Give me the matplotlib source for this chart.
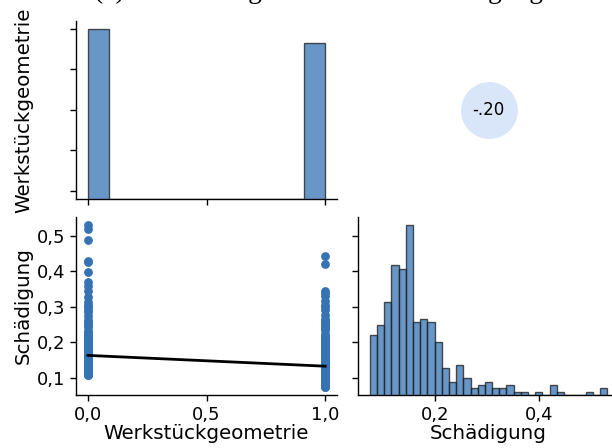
import numpy as np
import matplotlib
matplotlib.use("Agg")
import matplotlib.pyplot as plt
from matplotlib.ticker import FuncFormatter

# Damage values of the parts, split by workpiece geometry (0 / 1)
schaedigung_geo0 = [
    0.109, 0.109, 0.110, 0.110, 0.111, 0.111, 0.112, 0.112, 0.113, 0.113, 0.114, 0.114, 0.115, 0.115,
    0.116, 0.116, 0.117, 0.117, 0.118, 0.118, 0.119, 0.119, 0.120, 0.121, 0.121, 0.122, 0.123, 0.123,
    0.124, 0.125, 0.125, 0.126, 0.127, 0.127, 0.128, 0.129,
    0.130, 0.130, 0.131, 0.132, 0.132, 0.133, 0.134, 0.134, 0.135, 0.136, 0.136, 0.137, 0.138, 0.138,
    0.139, 0.140, 0.140, 0.141, 0.142, 0.142, 0.143,
    0.144, 0.144, 0.145, 0.145, 0.146, 0.146, 0.147, 0.147, 0.147, 0.148, 0.148, 0.149, 0.149, 0.150,
    0.150, 0.150, 0.151, 0.151, 0.152, 0.152, 0.153, 0.153, 0.154, 0.154, 0.155, 0.155, 0.156,
    0.158, 0.162, 0.164, 0.164, 0.164, 0.165, 0.165, 0.166, 0.166, 0.167, 0.167, 0.168, 0.168, 0.169,
    0.169, 0.170, 0.170,
    0.171, 0.172, 0.172, 0.173, 0.174, 0.175, 0.176, 0.177, 0.177, 0.178, 0.179, 0.180, 0.181, 0.182,
    0.183, 0.184,
    0.185, 0.186, 0.187, 0.188, 0.189, 0.190, 0.190, 0.191, 0.192, 0.193, 0.194, 0.195, 0.196, 0.197,
    0.198,
    0.199, 0.200, 0.200, 0.201, 0.202, 0.204, 0.205, 0.206, 0.207, 0.209, 0.210, 0.212,
    0.214, 0.216, 0.219, 0.221, 0.224, 0.228, 0.233, 0.242, 0.249, 0.252, 0.257, 0.264,
    0.273, 0.285, 0.291, 0.299, 0.305, 0.315, 0.329, 0.344, 0.359, 0.371, 0.399, 0.427, 0.430, 0.490,
    0.519, 0.531,
]
schaedigung_geo1 = [
    0.074, 0.075, 0.076, 0.077, 0.078, 0.079, 0.079, 0.080, 0.081, 0.081, 0.082, 0.083, 0.083, 0.084,
    0.085, 0.085, 0.086, 0.087,
    0.088, 0.089, 0.089, 0.090, 0.091, 0.091, 0.092, 0.093, 0.093, 0.094, 0.095, 0.095, 0.096, 0.096,
    0.097, 0.098, 0.098, 0.099, 0.100, 0.100, 0.101,
    0.102, 0.103, 0.104, 0.105, 0.106, 0.107, 0.108, 0.108, 0.109, 0.110, 0.111, 0.112, 0.113, 0.115,
    0.116, 0.117, 0.117, 0.118, 0.119, 0.120, 0.121, 0.121, 0.122, 0.123, 0.124, 0.125, 0.125, 0.126,
    0.127, 0.128, 0.129,
    0.130, 0.130, 0.131, 0.131, 0.131, 0.132, 0.132, 0.132, 0.132, 0.133, 0.134, 0.135, 0.137, 0.138,
    0.140, 0.141, 0.142,
    0.144, 0.144, 0.145, 0.145, 0.146, 0.146, 0.147, 0.147, 0.148, 0.148, 0.149, 0.149, 0.150, 0.150,
    0.151, 0.151, 0.152, 0.152, 0.153, 0.153, 0.154, 0.155, 0.155, 0.156,
    0.158, 0.160, 0.162, 0.166, 0.169,
    0.172, 0.174, 0.176, 0.178, 0.180, 0.182, 0.184,
    0.186, 0.188, 0.190, 0.192, 0.194, 0.196, 0.198,
    0.203, 0.206, 0.208, 0.211,
    0.215, 0.219, 0.224, 0.234, 0.238, 0.242, 0.245, 0.246, 0.247, 0.250, 0.253, 0.256, 0.261, 0.266,
    0.276, 0.292, 0.300, 0.306, 0.318, 0.330, 0.340, 0.346, 0.422, 0.444,
]

var_geo = "Werkstückgeometrie"
var_dmg = "Schädigung"
title_text = "(a) Werkstückgeometrie und Schädigung"
geo_xticks = [0.0, 0.5, 1.0]
geo_yticks = [0.0, 0.25, 0.5, 0.75, 1.0]
dmg_ticks = [0.1, 0.2, 0.3, 0.4, 0.5]
dmg_hist_ticks = [0.2, 0.4]
n_bins_geo = 11
n_bins_dmg = 33

point_color = "#3573b3"
label_size = 14.3
tick_size = 13

geo = np.concatenate([np.zeros(len(schaedigung_geo0)), np.ones(len(schaedigung_geo1))])
dmg = np.concatenate([schaedigung_geo0, schaedigung_geo1])

plt.rcParams["font.family"] = ["DejaVu Sans"]
fig = plt.figure(figsize=(6.12, 4.48), dpi=100)

W, H = 612.0, 448.0
def place(x0, y0, x1, y1):
    return fig.add_axes([x0 / W, 1 - y1 / H, (x1 - x0) / W, (y1 - y0) / H])

ax_tl = place(76, 20.7, 337, 199)
ax_tr = place(358, 20.7, 619, 199)
ax_bl = place(76, 217, 337, 395)
ax_br = place(358, 217, 619, 395)

comma = FuncFormatter(lambda v, p: f"{v:.1f}".replace(".", ","))

def margins(v):
    lo, hi = np.min(v), np.max(v)
    pad = 0.05 * (hi - lo)
    return lo - pad, hi + pad

geo_lim = margins(geo)
dmg_lim = margins(dmg)

for ax in (ax_tl, ax_bl, ax_br):
    for side in ("top", "right"):
        ax.spines[side].set_visible(False)
    for side in ("left", "bottom"):
        ax.spines[side].set_linewidth(1.0)
    ax.tick_params(labelsize=tick_size, width=1.0, length=4.5)

# Top-left: distribution of the geometry
ax_tl.set_xlim(*geo_lim)
ax_tl.set_ylim(*geo_lim)
ax_tl.set_xticks(geo_xticks)
ax_tl.set_yticks(geo_yticks)
ax_tl.tick_params(labelbottom=False, labelleft=False)
ax_tl.set_ylabel(var_geo, fontsize=label_size)
ax_tl.yaxis.set_label_coords(-0.165, 0.5)
tw_tl = ax_tl.twinx()
tw_tl.set_axis_off()
tw_tl.hist(geo, bins=n_bins_geo, range=(geo.min(), geo.max()), color=point_color, alpha=0.75,
           edgecolor="#1a1a1a", linewidth=1.0)

# Top-right: correlation bubble
ax_tr.set_axis_off()
r = np.corrcoef(geo, dmg)[0, 1]
ax_tr.scatter([0.5], [0.5], s=1680, c=[r], cmap="coolwarm", vmin=-1, vmax=1, alpha=0.6,
              transform=ax_tr.transAxes, linewidths=0)
ax_tr.text(0.5, 0.5, f"{r:.2f}".replace("0.", "."), transform=ax_tr.transAxes,
           ha="center", va="center", fontsize=12)

# Bottom-left: scatter with median regression line
ax_bl.scatter(geo, dmg, s=40, color=point_color, linewidths=0, zorder=2)
med0 = np.median(dmg[geo == 0])
med1 = np.median(dmg[geo == 1])
ax_bl.plot([0.0, 1.0], [med0, med1], color="black", lw=2.0, zorder=3)
ax_bl.set_xlim(*geo_lim)
ax_bl.set_ylim(*dmg_lim)
ax_bl.set_xticks(geo_xticks)
ax_bl.set_yticks(dmg_ticks)
ax_bl.xaxis.set_major_formatter(comma)
ax_bl.yaxis.set_major_formatter(comma)
ax_bl.set_xlabel(var_geo, fontsize=label_size)
ax_bl.set_ylabel(var_dmg, fontsize=label_size)
ax_bl.yaxis.set_label_coords(-0.165, 0.5)
ax_bl.xaxis.set_label_coords(0.5, -0.163)

# Bottom-right: distribution of the damage
ax_br.set_xlim(*dmg_lim)
ax_br.set_ylim(*dmg_lim)
ax_br.set_xticks(dmg_hist_ticks)
ax_br.set_yticks(dmg_ticks)
ax_br.xaxis.set_major_formatter(comma)
ax_br.tick_params(labelleft=False)
ax_br.set_xlabel(var_dmg, fontsize=label_size)
ax_br.xaxis.set_label_coords(0.5, -0.163)
tw_br = ax_br.twinx()
tw_br.set_axis_off()
tw_br.hist(dmg, bins=n_bins_dmg, range=(dmg.min(), dmg.max()), color=point_color, alpha=0.75,
           edgecolor="#1a1a1a", linewidth=1.0)

fig.text(318 / W, 1.0 + 2.0 / H, title_text, ha="center", va="baseline",
         fontfamily="Liberation Serif", fontsize=19.8)

fig.savefig("out.png", dpi=100)
